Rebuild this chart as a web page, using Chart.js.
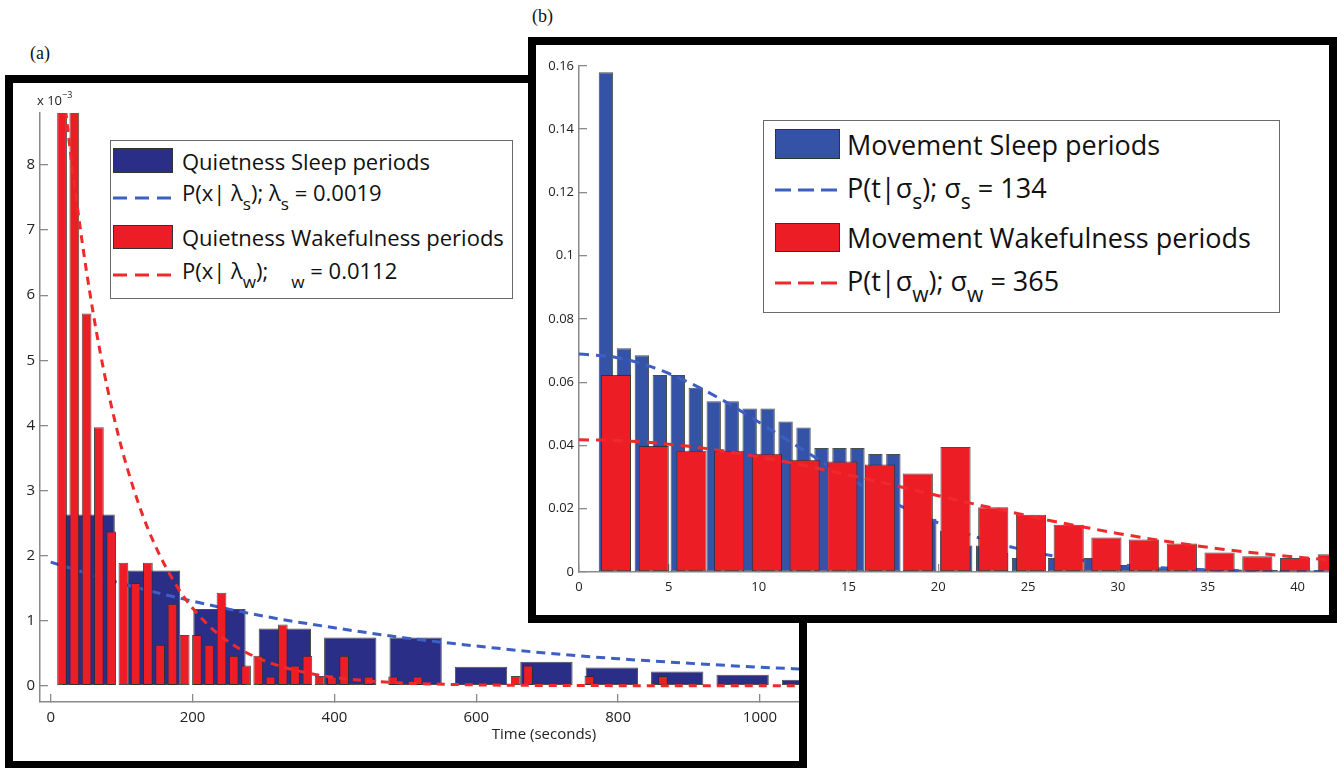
<!DOCTYPE html>
<html><head><meta charset="utf-8">
<script src="https://cdn.jsdelivr.net/npm/chart.js@4.4.1/dist/chart.umd.min.js"></script>
<style>
html,body{margin:0;padding:0;background:#fff;}
body{width:1337px;height:768px;overflow:hidden;position:relative;font-family:'Open Sans',sans-serif;color:#111;}
.abs{position:absolute;}
#boxA{left:5px;top:75px;width:802px;height:693px;border:8px solid #000;border-bottom-width:7px;box-sizing:border-box;background:#fff;z-index:1;}
#cA{left:13px;top:83px;z-index:2;}
#boxB{left:528px;top:37px;width:809px;height:586px;border:8px solid #000;box-sizing:border-box;background:#fff;z-index:5;}
#cB{left:536px;top:45px;z-index:6;}
.leg{border:1px solid #6a6a6a;background:#fff;box-sizing:border-box;}
.legt{position:absolute;white-space:nowrap;line-height:1;color:#111;}
.legt sub{font-size:78%;vertical-align:-0.5em;line-height:0;}
.sw{position:absolute;box-sizing:border-box;border:1px solid #333;}
.serif{font-family:'Liberation Serif','Times New Roman',serif;font-size:18px;color:#111;line-height:1;}
</style></head>
<body>
<div id="boxA" class="abs"></div>
<canvas id="cA" class="abs" width="786" height="677"></canvas>
<div class="abs serif" style="left:30px;top:44px;z-index:3">(a)</div>
<div class="abs" style="left:37px;top:94px;font-size:13px;line-height:1;color:#222;z-index:3">x 10<sup style="font-size:9px;vertical-align:7px;line-height:0">−3</sup></div>
<div class="abs" style="left:444px;width:200px;text-align:center;top:726px;font-size:15px;line-height:1;color:#222;z-index:3">Time (seconds)</div>
<div id="legA" class="abs leg" style="left:110px;top:140px;width:403px;height:159px;z-index:3"></div>
<div class="abs serif" style="left:532px;top:7px;z-index:3">(b)</div>
<div id="boxB" class="abs"></div>
<canvas id="cB" class="abs" width="793" height="570"></canvas>
<div id="legB" class="abs leg" style="left:763px;top:120px;width:517px;height:193px;z-index:7"></div>
<script>
// ---------- Panel (a): quietness periods (y values in units of 1e-3) ----------
const aSleepX = [53.5, 145.7, 237.9, 330.1, 422.3, 514.5, 606.7, 698.9, 791.1, 883.3, 975.5, 1067.7];
const aSleepY = [2.63, 1.77, 1.18, 0.88, 0.74, 0.74, 0.29, 0.37, 0.28, 0.22, 0.17, 0.09];
const aWakeX = [16, 33.3, 50.6, 67.9, 85.2, 102.5, 119.7, 137.0, 154.3, 171.6, 188.9, 206.2, 223.5, 240.8, 258.1, 275.4, 292.6, 309.9, 327.2, 344.5, 361.8, 379.1, 396.4, 413.7, 448.3, 482.8, 517.4, 655.7, 673.0, 759.5, 863.2];
const aWakeY = [9.4, 8.9, 5.72, 3.97, 2.37, 1.89, 1.58, 1.89, 0.63, 1.26, 0.78, 0.78, 0.63, 1.43, 0.46, 0.31, 0.46, 0.14, 0.94, 0.31, 0.46, 0.15, 0.14, 0.46, 0.14, 0.14, 0.14, 0.15, 0.31, 0.15, 0.15];
const aSleepFitX = [0, 100, 200, 300, 400, 500, 600, 700, 800, 900, 1000, 1060];
const aSleepFitY = [1.90, 1.57, 1.30, 1.07, 0.89, 0.735, 0.61, 0.50, 0.415, 0.345, 0.285, 0.255];
const aWakeFitX = [0, 10, 20, 30, 40, 50, 60, 70, 80, 90, 100, 115, 130, 145, 160, 175, 190, 210, 230, 250, 275, 300, 330, 360, 400, 450, 500, 600, 700, 800, 900, 1000, 1060];
const aWakeFitY = [11.2, 10.0, 8.95, 8.0, 7.16, 6.4, 5.72, 5.11, 4.57, 4.09, 3.65, 3.09, 2.61, 2.21, 1.87, 1.58, 1.33, 1.07, 0.85, 0.68, 0.515, 0.39, 0.28, 0.2, 0.127, 0.072, 0.041, 0.0135, 0.0044, 0.0014, 0.0005, 0.0002, 0.0001];
const aLabels = ['Quietness Sleep periods', 'P(x| λ<sub>s</sub>); λ<sub>s</sub> = 0.0019', 'Quietness Wakefulness periods', 'P(x| λ<sub>w</sub>);&nbsp;&nbsp;&nbsp;&nbsp;<sub>w</sub> = 0.0112'];

// ---------- Panel (b): movement periods ----------
const bSleepX = [1.5, 2.5, 3.5, 4.5, 5.5, 6.5, 7.5, 8.5, 9.5, 10.5, 11.5, 12.5, 13.5, 14.5, 15.5, 16.5, 17.5, 18.5, 19.5, 20.5, 21.5, 22.5, 23.5, 24.5, 25.5, 26.5, 27.5, 28.5, 29.5, 30.5, 31.5, 32.5, 33.5, 34.5, 35.5, 36.5, 37.5, 38.5, 39.5, 40.5, 41.5];
const bSleepY = [0.158, 0.0707, 0.0685, 0.0623, 0.0623, 0.0582, 0.054, 0.054, 0.0517, 0.0517, 0.0476, 0.0457, 0.0392, 0.0392, 0.0392, 0.0373, 0.0373, 0.025, 0.0168, 0.013, 0.0084, 0.0084, 0.006, 0.0044, 0.004, 0.0044, 0.003, 0.0044, 0.002, 0.0022, 0.0015, 0.0015, 0.001, 0.001, 0.0008, 0.0008, 0.0006, 0.0006, 0.0005, 0.0005, 0.0003];
const bWakeX = [2.06, 4.16, 6.26, 8.36, 10.46, 12.56, 14.66, 16.76, 18.86, 20.96, 23.06, 25.16, 27.26, 29.36, 31.46, 33.56, 35.66, 37.76, 39.86, 41.96];
const bWakeY = [0.0623, 0.0398, 0.0383, 0.0383, 0.0374, 0.0355, 0.0349, 0.034, 0.0311, 0.0395, 0.0205, 0.0181, 0.0149, 0.0109, 0.0103, 0.009, 0.0062, 0.005, 0.0044, 0.0056];
const bFitX = [0, 2, 4, 6, 8, 10, 12, 14, 16, 18, 20, 22, 24, 26, 28, 30, 32, 34, 36, 38, 40, 42];
const bSleepFitY = [0.0689, 0.0679, 0.0649, 0.0602, 0.0543, 0.0474, 0.0403, 0.0332, 0.0265, 0.0206, 0.0155, 0.0113, 0.0080, 0.0055, 0.0037, 0.0024, 0.0015, 0.00092, 0.00055, 0.00031, 0.00018, 0.0001];
const bWakeFitY = [0.0418, 0.0416, 0.0409, 0.0398, 0.0383, 0.0364, 0.0343, 0.0319, 0.0294, 0.0268, 0.0241, 0.0215, 0.0190, 0.0165, 0.0143, 0.0122, 0.0103, 0.0086, 0.0071, 0.0058, 0.0047, 0.0037];
const bLabels = ['Movement Sleep periods', 'P(t|σ<sub>s</sub>); σ<sub>s</sub> = 134', 'Movement Wakefulness periods', 'P(t|σ<sub>w</sub>); σ<sub>w</sub> = 365'];

const aTicksX = {min: -15.1, max: 1055, step: 200};
const aTicksY = {min: -0.25, max: 8.8, step: 1};
const bTicksX = {min: 0, max: 41.75, step: 5};
const bTicksY = {min: 0, max: 0.16, step: 0.02};

// ---------- styles ----------
const NAVY = '#2b2e86', BLUE_B = '#3553a6', RED = '#ec1d25';
const BLUE_LINE = '#3d5fc4', RED_LINE = '#f02a2a';
const AXIS = '#8a8a8a', TICKTXT = '#222';
const FONT = "'Open Sans', sans-serif";

const pts = (xs, ys) => xs.map((x, i) => ({x: x, y: ys[i]}));
const plain = s => s.replace(/<[^>]+>/g, '').replace(/&nbsp;/g, ' ');

function barDs(label, xs, ys, color, axis, order) {
  return {type: 'bar', label: plain(label), data: pts(xs, ys), xAxisID: axis, yAxisID: 'y',
    backgroundColor: color, borderColor: 'rgba(45,45,45,0.85)', borderWidth: 1, borderSkipped: false,
    barPercentage: 0.8, categoryPercentage: 1, grouped: false, order: order, clip: 0};
}
function lineDs(label, xs, ys, color, dash, order) {
  return {type: 'line', label: plain(label), data: pts(xs, ys), xAxisID: 'x', yAxisID: 'y',
    borderColor: color, borderWidth: 3, borderDash: dash, pointRadius: 0, fill: false,
    cubicInterpolationMode: 'monotone', order: order};
}
function axisX(t, size, pad, height, display) {
  return {type: 'linear', position: 'bottom', display: display, min: t.min, max: t.max, offset: false,
    ticks: {stepSize: t.step, includeBounds: false, padding: pad, color: TICKTXT, font: {family: FONT, size: size},
      maxRotation: 0, autoSkip: false, callback: v => String(+(+v).toFixed(4))},
    grid: {display: true, offset: false, drawOnChartArea: false, drawTicks: true, tickLength: -8, color: AXIS, lineWidth: 1.3},
    border: {display: true, color: AXIS, width: 1.5},
    afterFit: s => { if (height !== null) s.height = height; }};
}
function axisY(t, size, pad, width) {
  return {type: 'linear', position: 'left', min: t.min, max: t.max,
    ticks: {stepSize: t.step, includeBounds: false, padding: pad, color: TICKTXT, font: {family: FONT, size: size},
      callback: v => String(+(+v).toFixed(4))},
    grid: {display: true, offset: false, drawOnChartArea: false, drawTicks: true, tickLength: -8, color: AXIS, lineWidth: 1.3},
    border: {display: true, color: AXIS, width: 1.5},
    afterFit: s => { s.width = width; }};
}
function baseOptions(padTop, sx, sxb, sy) {
  return {responsive: false, animation: false, devicePixelRatio: 1,
    layout: {padding: {top: padTop, left: 0, right: 0, bottom: 0}},
    plugins: {legend: {display: false}, tooltip: {enabled: false}, title: {display: false}},
    scales: {x: sx, xb: sxb, y: sy}};
}

new Chart(document.getElementById('cA'), {
  type: 'bar',
  data: {datasets: [
    barDs(aLabels[0], aSleepX, aSleepY, NAVY, 'xb', 4),
    lineDs(aLabels[1], aSleepFitX, aSleepFitY, BLUE_LINE, [9, 6], 3),
    barDs(aLabels[2], aWakeX, aWakeY, RED, 'x', 2),
    lineDs(aLabels[3], aWakeFitX, aWakeFitY, RED_LINE, [8, 6], 1)
  ]},
  options: baseOptions(30, axisX(aTicksX, 15, 15, 58, true), axisX(aTicksX, 15, 15, null, false), axisY(aTicksY, 15, 13, 27))
});

new Chart(document.getElementById('cB'), {
  type: 'bar',
  data: {datasets: [
    barDs(bLabels[0], bSleepX, bSleepY, BLUE_B, 'xb', 4),
    lineDs(bLabels[1], bFitX, bSleepFitY, BLUE_LINE, [10, 7], 3),
    barDs(bLabels[2], bWakeX, bWakeY, RED, 'x', 2),
    lineDs(bLabels[3], bFitX, bWakeFitY, RED_LINE, [10, 7], 1)
  ]},
  options: baseOptions(13, axisX(bTicksX, 13, 15, 43, true), axisX(bTicksX, 13, 15, null, false), axisY(bTicksY, 13, 13, 43))
});

// ---------- HTML legends (real text, with subscripts) ----------
function buildLegend(id, labels, colors, lay) {
  const el = document.getElementById(id);
  labels.forEach((lab, i) => {
    const r = lay.rows[i];
    if (i % 2 === 0) {
      const sw = document.createElement('div');
      sw.className = 'sw';
      sw.style.cssText = `left:${lay.swX}px;top:${r.sy}px;width:${lay.swW}px;height:${r.sh}px;background:${colors[i]};`;
      el.appendChild(sw);
    } else {
      const ns = 'http://www.w3.org/2000/svg';
      const svg = document.createElementNS(ns, 'svg');
      svg.setAttribute('width', lay.swW); svg.setAttribute('height', 6);
      svg.style.cssText = `position:absolute;left:${lay.swX}px;top:${r.sy - 3}px;`;
      const ln = document.createElementNS(ns, 'line');
      ln.setAttribute('x1', 0); ln.setAttribute('x2', lay.swW);
      ln.setAttribute('y1', 3); ln.setAttribute('y2', 3);
      ln.setAttribute('stroke', colors[i]); ln.setAttribute('stroke-width', 3);
      ln.setAttribute('stroke-dasharray', lay.dash);
      svg.appendChild(ln); el.appendChild(svg);
    }
    const t = document.createElement('div');
    t.className = 'legt';
    t.style.cssText = `left:${lay.tx}px;top:${r.ty}px;font-size:${lay.fs}px;`;
    t.innerHTML = lab;
    el.appendChild(t);
  });
}
buildLegend('legA', aLabels, [NAVY, BLUE_LINE, RED, RED_LINE],
  {swX: 2, swW: 60, tx: 71, fs: 22, dash: '14 8',
   rows: [{sy: 7, sh: 25, ty: 9}, {sy: 57, ty: 40}, {sy: 84, sh: 24, ty: 85}, {sy: 134, ty: 118}]});
buildLegend('legB', bLabels, [BLUE_B, BLUE_LINE, RED, RED_LINE],
  {swX: 11, swW: 65, tx: 83, fs: 27, dash: '16 7',
   rows: [{sy: 8, sh: 30, ty: 10}, {sy: 69, ty: 53}, {sy: 102, sh: 29, ty: 103}, {sy: 162, ty: 146}]});
</script>
</body></html>
